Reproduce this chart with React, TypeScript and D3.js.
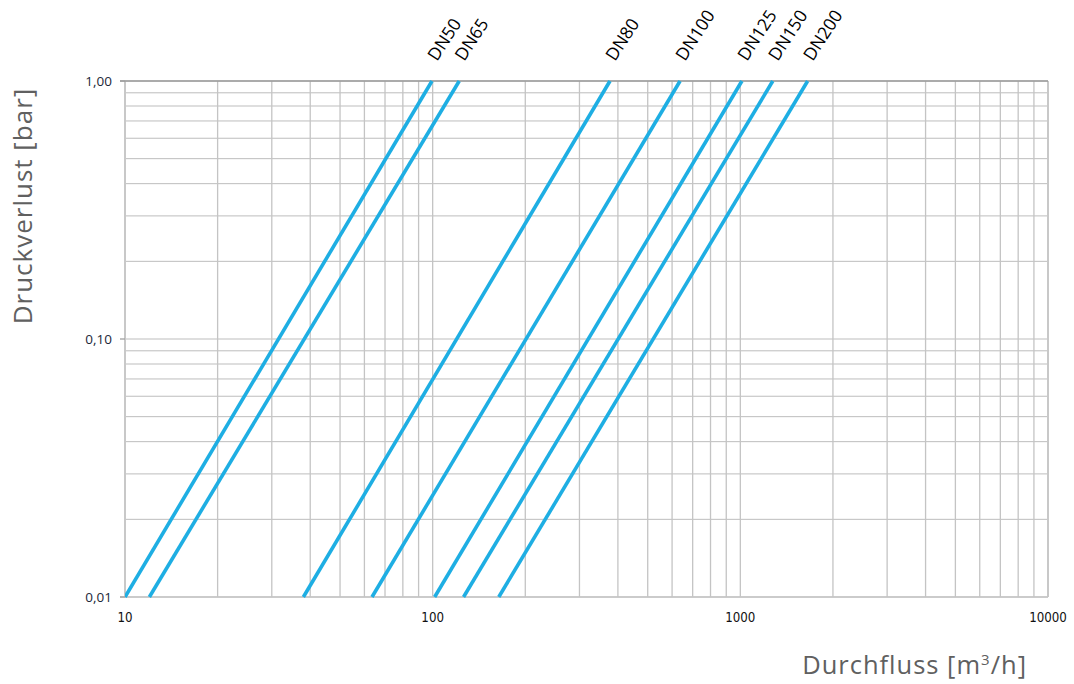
import React from "react";
import * as d3 from "d3";

const seriesNames = ["DN50", "DN65", "DN80", "DN100", "DN125", "DN150", "DN200"];
// flow [m3/h] read at 0,01 bar and at 1,00 bar
const flowAtLow = [10, 12, 38, 63.5, 101.5, 126, 164];
const flowAtHigh = [99.5, 122, 377, 637, 1012, 1275, 1655];
const pressureLow = 0.01;
const pressureHigh = 1.0;

const xTickValues = [10, 100, 1000, 10000];
const xTickLabels = ["10", "100", "1000", "10000"];
const yTickValues = [0.01, 0.1, 1];
const yTickLabels = ["0,01", "0,10", "1,00"];

const W = 1074;
const H = 684;
const left = 125;
const right = 1048;
const top = 81;
const bottom = 597;

export default function App() {
  const x = d3.scaleLog().domain([10, 10000]).range([left, right]);
  const y = d3.scaleLog().domain([0.01, 1]).range([bottom, top]);

  const xGrid: number[] = [];
  for (let e = 1; e <= 3; e++) for (let m = 1; m <= 9; m++) xGrid.push(m * Math.pow(10, e));
  xGrid.push(10000);
  const yGrid: number[] = [];
  for (let e = -2; e <= -1; e++) for (let m = 1; m <= 9; m++) yGrid.push(m * Math.pow(10, e));
  yGrid.push(1);

  const line = d3
    .line<[number, number]>()
    .x((d) => x(d[0]))
    .y((d) => y(d[1]));

  const font = "'Open Sans', sans-serif";

  return (
    <svg
      width={W}
      height={H}
      style={{ position: "absolute", left: 0, top: 0, background: "#fff" }}
    >
      <defs>
        <clipPath id="plot">
          <rect x={left} y={top - 2} width={right - left} height={bottom - top + 4} />
        </clipPath>
      </defs>
      {/* grid */}
      {yGrid.map((v, i) => (
        <line key={"hy" + i} x1={left} x2={right} y1={y(v)} y2={y(v)} stroke="#bdbdbd" strokeWidth={1} />
      ))}
      {xGrid.map((v, i) => (
        <line key={"vx" + i} x1={x(v)} x2={x(v)} y1={top} y2={bottom} stroke="#c4c4c4" strokeWidth={1.3} />
      ))}
      {/* frame */}
      <line x1={left} x2={left} y1={top} y2={bottom} stroke="#c8c8c8" strokeWidth={2} />
      <line x1={right} x2={right} y1={top} y2={bottom} stroke="#c8c8c8" strokeWidth={2} />
      <line x1={left - 5} x2={right} y1={top} y2={top} stroke="#9a9a9a" strokeWidth={1.3} />
      <line x1={left - 5} x2={right} y1={bottom} y2={bottom} stroke="#c4c4c4" strokeWidth={1.5} />
      {yTickValues.map((v, i) => (
        <line key={"yt" + i} x1={left - 5} x2={left} y1={y(v)} y2={y(v)} stroke="#a0a0a0" strokeWidth={1.3} />
      ))}
      {/* series */}
      <g clipPath="url(#plot)">
        {seriesNames.map((n, i) => (
          <path
            key={n}
            d={line([
              [flowAtLow[i], pressureLow],
              [flowAtHigh[i], pressureHigh],
            ]) || ""}
            fill="none"
            stroke="#1eaee3"
            strokeWidth={3.6}
          />
        ))}
      </g>
      {/* series labels */}
      {seriesNames.map((n, i) => {
        const lx = x(flowAtHigh[i]) + 5;
        const ly = 62;
        return (
          <text
            key={"l" + n}
            transform={`translate(${lx},${ly}) rotate(-57)`}
            fontFamily={font}
            fontSize={17.5}
            fill="#000"
          >
            {n}
          </text>
        );
      })}
      {/* y tick labels */}
      {yTickValues.map((v, i) => (
        <text
          key={"yl" + i}
          x={112}
          y={y(v) + 5}
          textAnchor="end"
          fontFamily={font}
          fontSize={13.5}
          fill="#1c2838"
        >
          {yTickLabels[i]}
        </text>
      ))}
      {/* x tick labels */}
      {xTickValues.map((v, i) => (
        <text
          key={"xl" + i}
          x={x(v)}
          y={622}
          textAnchor="middle"
          fontFamily="'DejaVu Sans Condensed', 'DejaVu Sans', sans-serif"
          fontStretch="condensed"
          fontSize={13.2}
          fill="#111"
        >
          {xTickLabels[i]}
        </text>
      ))}
      {/* axis titles */}
      <text
        x={1027}
        y={674}
        textAnchor="end"
        fontFamily={font}
        fontSize={25.5}
        letterSpacing={1}
        fill="#606060"
      >
        Durchfluss [m<tspan dy={-9} fontSize={15}>3</tspan>
        <tspan dy={9}>/h]</tspan>
      </text>
      <text
        transform={`translate(32,206) rotate(-90)`}
        textAnchor="middle"
        fontFamily={font}
        fontSize={26}
        letterSpacing={1}
        fill="#606060"
      >
        Druckverlust [bar]
      </text>
    </svg>
  );
}
